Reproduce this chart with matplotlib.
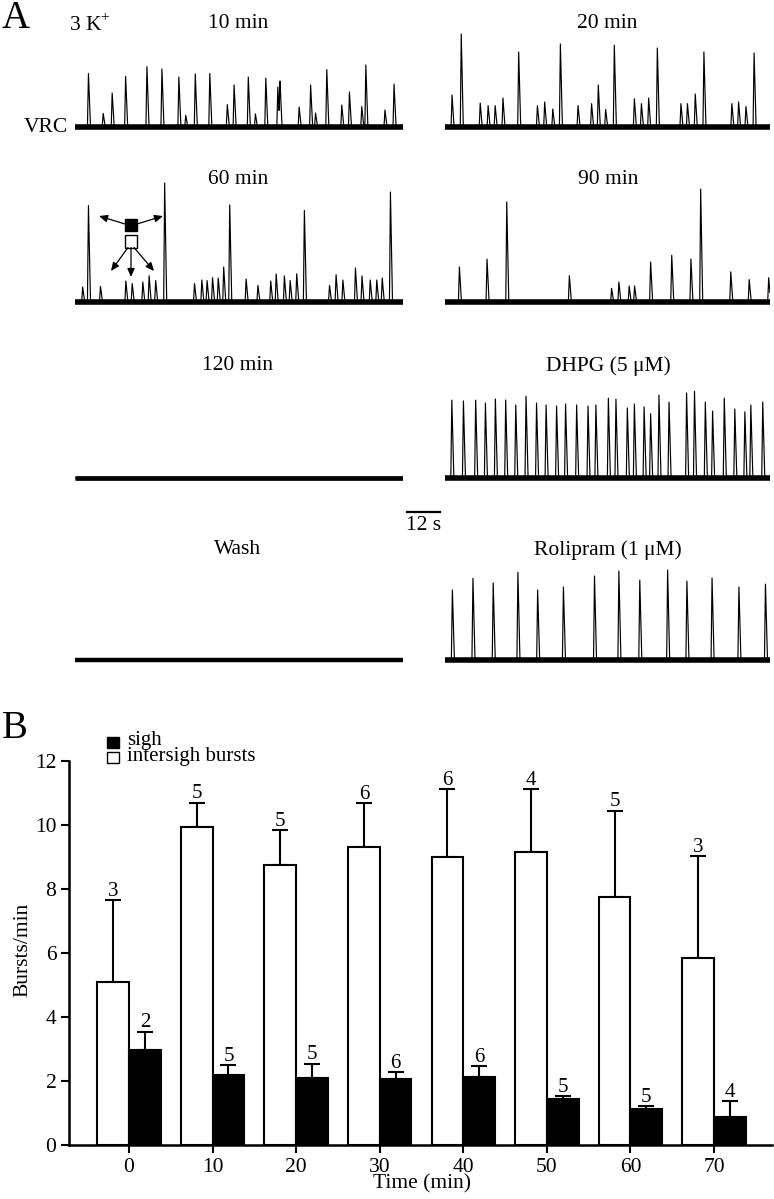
import numpy as np
import matplotlib
matplotlib.use('Agg')
import matplotlib.pyplot as plt
from matplotlib.patches import Rectangle, FancyArrowPatch

plt.rcParams['font.family'] = ['Liberation Serif', 'DejaVu Serif']

# ---------------- data: panel A traces (peak time s, amplitude a.u.) ----------------
trace_len_s = 120

p10_t = [4.9, 13.6, 18.5, 26.3, 31.8, 38.0, 44.0, 49.3, 55.7, 58.2, 63.4, 69.8, 74.2, 75.0,
         82.0, 86.2, 92.1, 97.6, 100.4, 104.9, 106.4, 113.4, 116.7, 10.3, 40.5, 66.0, 88.0]
p10_a = [55, 34, 52, 62, 58, 50, 53, 55, 23, 42, 50, 49, 40, 46,
         20, 42, 59, 22, 35, 21, 62, 17, 44, 14, 12, 13, 14]

p20_t = [2.6, 6.0, 13.0, 15.9, 18.5, 21.4, 27.2, 34.1, 36.8, 39.8, 42.6, 49.1, 54.1, 56.6,
         59.3, 62.5, 69.9, 72.5, 75.2, 78.4, 87.1, 89.5, 92.4, 95.6, 105.9, 108.4, 111.1, 114.1]
p20_a = [32, 93, 24, 22, 22, 29, 75, 22, 25, 18, 83, 22, 24, 42,
         18, 84, 29, 24, 29, 79, 24, 24, 33, 75, 24, 25, 21, 76]

p60_t = [2.8, 4.9, 9.3, 18.6, 20.9, 24.8, 27.1, 29.5, 32.8, 43.7, 46.4, 48.3, 50.3, 52.4,
         54.4, 56.6, 62.6, 66.9, 71.6, 73.6, 76.6, 78.7, 81.1, 83.9, 93.1, 95.5, 98.0,
         102.6, 105.0, 108.0, 110.4, 112.4, 115.4]
p60_a = [15, 99, 16, 21, 19, 20, 27, 22, 119, 19, 22, 22, 25, 24,
         35, 97, 23, 17, 21, 28, 26, 22, 29, 94, 17, 28, 22,
         34, 26, 22, 22, 24, 110]

p90_t = [5.3, 15.5, 22.8, 45.9, 61.5, 64.2, 68.0, 70.0, 75.9, 83.7, 90.8, 94.4, 105.5, 112.3, 119.5]
p90_a = [36, 44, 100, 27, 14, 20, 16, 16, 41, 48, 43, 113, 31, 23, 25]

p120_t = []
p120_a = []

dhpg_t = [2.5, 6.8, 11.3, 14.9, 18.6, 22.4, 26.1, 29.9, 33.8, 37.3, 41.2, 44.5, 48.6, 52.8,
          55.7, 60.3, 63.1, 67.3, 69.9, 73.5, 75.9, 79.0, 82.7, 89.2, 92.1, 96.1, 98.8,
          103.1, 107.0, 110.7, 112.9, 117.3]
dhpg_a = [80, 77, 80, 77, 79, 78, 75, 84, 75, 75, 72, 76, 73, 72,
          75, 82, 81, 72, 76, 73, 66, 83, 78, 85, 89, 78, 67,
          82, 69, 68, 75, 78]

wash_t = []
wash_a = []

roli_t = [2.7, 10.3, 17.8, 26.9, 34.2, 43.7, 55.2, 64.2, 71.9, 82.2, 89.3, 98.6, 108.5, 118.3]
roli_a = [72, 84, 77, 90, 70, 75, 84, 89, 82, 90, 81, 82, 75, 78]

# ---------------- data: panel B ----------------
times_min = [0, 10, 20, 30, 40, 50, 60, 70]
intersigh_mean = [5.1, 9.95, 8.75, 9.3, 9.0, 9.15, 7.75, 5.85]
intersigh_sem = [2.55, 0.75, 1.08, 1.38, 2.13, 1.98, 2.7, 3.17]
intersigh_n = [3, 5, 5, 6, 6, 4, 5, 3]
sigh_mean = [2.98, 2.19, 2.1, 2.05, 2.12, 1.43, 1.12, 0.88]
sigh_sem = [0.56, 0.31, 0.44, 0.22, 0.35, 0.10, 0.09, 0.5]
sigh_n = [2, 5, 5, 6, 6, 5, 5, 4]
yticks_B = [0, 2, 4, 6, 8, 10, 12]

# ---------------- figure ----------------
W, H = 774, 1199
FS = 15.5
fig = plt.figure(figsize=(W / 100, H / 100), dpi=100)


def px_axes(x0, y0, x1, y1):
    return fig.add_axes([x0 / W, 1 - y1 / H, (x1 - x0) / W, (y1 - y0) / H])


def ftext(x, y, s, **kw):
    kw.setdefault('ha', 'center')
    kw.setdefault('va', 'center')
    kw.setdefault('fontsize', FS)
    return fig.text(x / W, 1 - y / H, s, **kw)


def build(tp, amp):
    t = np.arange(0, trace_len_s, 0.04)
    sig = np.zeros_like(t)
    for p, a in zip(tp, amp):
        sig += np.interp(t, [p - 0.35, p, p + 0.75], [0, a, 0], left=0, right=0)
    return t, sig


def draw_trace(x0, x1, yb, tp, amp, band=4.0):
    ax = px_axes(x0, yb - 128, x1, yb + 12)
    t, s = build(tp, amp)
    ax.plot([0, trace_len_s], [0, 0], color='black', lw=band, solid_capstyle='butt', zorder=1)
    ax.plot(t, s, color='black', lw=0.85, zorder=2)
    ax.set_xlim(0, trace_len_s)
    ax.set_ylim(-12, 128)
    ax.axis('off')
    return ax


LX0, LX1 = 75, 403
RX0, RX1 = 445, 770

draw_trace(LX0, LX1, 127, p10_t, p10_a)
draw_trace(RX0, RX1, 127, p20_t, p20_a)
draw_trace(LX0, LX1, 302, p60_t, p60_a)
draw_trace(RX0, RX1, 302, p90_t, p90_a)
draw_trace(LX0, LX1, 478, p120_t, p120_a, band=3.4)
draw_trace(RX0, RX1, 478, dhpg_t, dhpg_a)
draw_trace(LX0, LX1, 660, wash_t, wash_a, band=3.2)
draw_trace(RX0, RX1, 660, roli_t, roli_a)

# panel A labels
ftext(2, 19, 'A', ha='left', fontsize=28)
ftext(70, 25, '3 K', ha='left')
ftext(100, 18, '+', ha='left', fontsize=11)
ftext(238, 24, '10 min')
ftext(607, 24, '20 min')
ftext(68, 127, 'VRC', ha='right')
ftext(238, 180, '60 min')
ftext(608, 180, '90 min')
ftext(238, 366, '120 min')
ftext(608, 366, 'DHPG (5 \u03bcM)')
ftext(238, 550, 'Wash')
ftext(608, 550, 'Rolipram (1 \u03bcM)')

# scale bar (12 s)
px_per_s = (LX1 - LX0) / trace_len_s
sb_x0 = 407
sb_len = 12 * px_per_s
fig.add_artist(plt.Line2D([sb_x0 / W, (sb_x0 + sb_len) / W], [1 - 512 / H, 1 - 512 / H],
                          color='black', lw=1.6, transform=fig.transFigure))
ftext(sb_x0 + sb_len / 2, 525, '12 s')

# inset symbol in 60 min trace
sq = 12
fig.add_artist(Rectangle((125 / W, 1 - 231 / H), sq / W, sq / H, transform=fig.transFigure,
                         facecolor='black', edgecolor='black', lw=1))
fig.add_artist(Rectangle((125 / W, 1 - 247.5 / H), sq / W, sq / H, transform=fig.transFigure,
                         facecolor='white', edgecolor='black', lw=1))
arrows = [((125, 224), (99, 216)), ((137, 224), (163, 216)),
          ((128, 247.5), (111, 271)), ((131, 247.5), (131, 277)), ((134, 247.5), (154, 271))]
for (xa, ya), (xb, yb) in arrows:
    fig.add_artist(FancyArrowPatch(
        (xa / W, 1 - ya / H), (xb / W, 1 - yb / H), transform=fig.transFigure,
        arrowstyle='-|>,head_length=5,head_width=2.2', color='black', lw=0.9,
        shrinkA=0, shrinkB=0, mutation_scale=1))

# ---------------- panel B ----------------
x0_px, x1_px = 69, 772
ax = px_axes(x0_px, 761, x1_px, 1145)
px_per_min = (714 - 129) / 70
xl = -(129 - x0_px) / px_per_min
xr = xl + (x1_px - x0_px) / px_per_min
bw = 3.8
x = np.array(times_min, dtype=float)

ax.bar(x, intersigh_mean, width=-bw, align='edge', facecolor='white', edgecolor='black',
       linewidth=1.5, zorder=2)
ax.bar(x, sigh_mean, width=bw, align='edge', facecolor='black', edgecolor='black',
       linewidth=1.5, zorder=2)
ax.errorbar(x - bw / 2, intersigh_mean, yerr=[np.zeros(len(x)), intersigh_sem], fmt='none',
            ecolor='black', elinewidth=1.5, capsize=5.8, capthick=1.5, zorder=1)
ax.errorbar(x + bw / 2, sigh_mean, yerr=[np.zeros(len(x)), sigh_sem], fmt='none',
            ecolor='black', elinewidth=1.5, capsize=5.8, capthick=1.5, zorder=1)
for xi, m, s, n in zip(x, intersigh_mean, intersigh_sem, intersigh_n):
    ax.annotate(str(n), (xi - bw / 2, m + s), xytext=(0, -0.5), textcoords='offset points',
                ha='center', va='bottom', fontsize=15)
for xi, m, s, n in zip(x, sigh_mean, sigh_sem, sigh_n):
    ax.annotate(str(n), (xi + bw / 2, m + s), xytext=(0, -0.5), textcoords='offset points',
                ha='center', va='bottom', fontsize=15)

ax.set_xlim(xl, xr)
ax.set_ylim(0, 12)
ax.set_xticks(times_min)
ax.set_xticklabels([str(t) for t in times_min])
ax.set_yticks(yticks_B)
ax.set_yticklabels([str(v) for v in yticks_B])
ax.tick_params(axis='both', direction='out', length=6, width=1.5, labelsize=FS, pad=3)
for side in ['top', 'right']:
    ax.spines[side].set_visible(False)
for side in ['left', 'bottom']:
    ax.spines[side].set_linewidth(1.8)

ftext(2, 728, 'B', ha='left', fontsize=28)
ftext(23, 950, 'Bursts/min', rotation=90)
ftext(422, 1184, 'Time (min)')

# legend
fig.add_artist(Rectangle((107 / W, 1 - 748 / H), 12 / W, 11 / H, transform=fig.transFigure,
                         facecolor='black', edgecolor='black', lw=1))
fig.add_artist(Rectangle((107 / W, 1 - 763 / H), 12 / W, 11 / H, transform=fig.transFigure,
                         facecolor='white', edgecolor='black', lw=1))
ftext(127, 740, 'sigh', ha='left', fontsize=15)
ftext(127, 757, 'intersigh bursts', ha='left', fontsize=15)

fig.savefig('out.png', dpi=100)
